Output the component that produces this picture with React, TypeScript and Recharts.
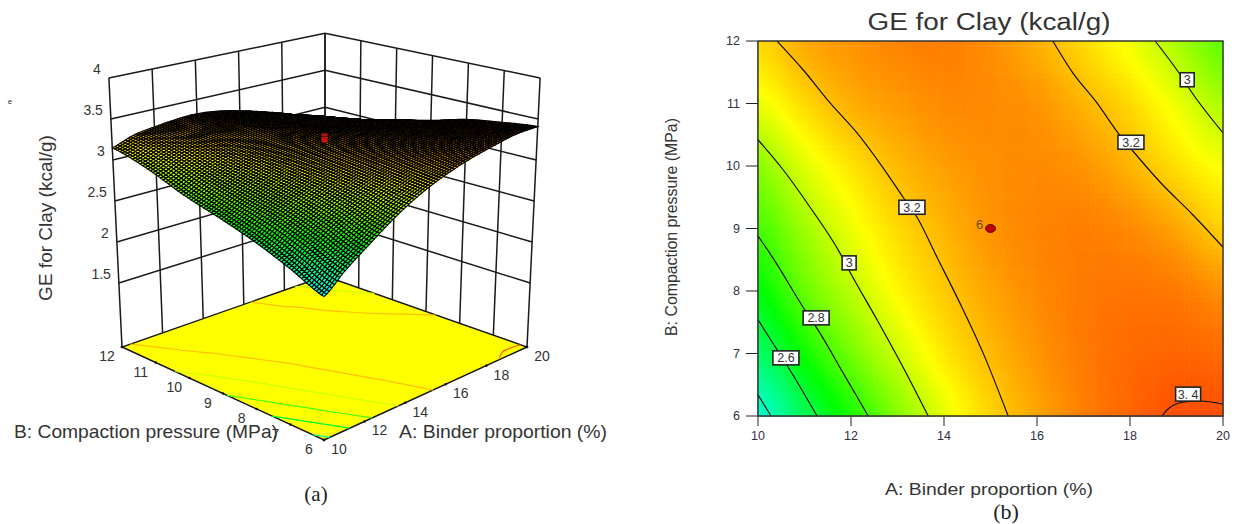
import React from 'react';
import { ScatterChart, Scatter, XAxis, YAxis } from 'recharts';

// GE (kcal/g), one row per compaction pressure (B = 6..12), A = 10..20
const binderValues = [10, 11, 12, 13, 14, 15, 16, 17, 18, 19, 20];
const pressureValues = [6, 7, 8, 9, 10, 11, 12];
const geB6 = [2.35, 2.55, 2.72, 2.89, 3.04, 3.16, 3.25, 3.32, 3.37, 3.41, 3.41];
const geB7 = [2.52, 2.7, 2.86, 3.0, 3.12, 3.21, 3.28, 3.33, 3.36, 3.37, 3.36];
const geB8 = [2.67, 2.84, 2.97, 3.09, 3.18, 3.25, 3.3, 3.33, 3.34, 3.33, 3.29];
const geB9 = [2.79, 2.93, 3.05, 3.15, 3.22, 3.28, 3.31, 3.32, 3.3, 3.25, 3.17];
const geB10 = [2.9, 3.03, 3.13, 3.21, 3.26, 3.29, 3.3, 3.28, 3.22, 3.14, 3.07];
const geB11 = [3.05, 3.15, 3.23, 3.27, 3.3, 3.3, 3.28, 3.22, 3.15, 3.05, 2.95];
const geB12 = [3.15, 3.24, 3.28, 3.31, 3.32, 3.29, 3.23, 3.15, 3.06, 2.95, 2.83];
const geRows = [geB6, geB7, geB8, geB9, geB10, geB11, geB12];

// contour lines as [A, B]
const contour24 = [[10, 6.34], [10.28, 6]];
const contour26 = [[10, 7.54], [10.41, 7.06], [10.65, 6.78], [11.27, 6]];
const contour28 = [[10, 8.88], [10.32, 8.53], [10.97, 7.74], [11.33, 7.33], [11.83, 6.69], [12.37, 6]];
const contour30 = [[10, 10.42], [10.54, 9.94], [11.12, 9.34], [11.76, 8.61], [11.98, 8.3], [12.56, 7.54], [13.12, 6.78], [13.66, 6]];
const contour32 = [[10.41, 12], [10.97, 11.54], [11.55, 11.01], [12.13, 10.53], [12.69, 9.97], [13.12, 9.5], [13.42, 9.18], [13.85, 8.54], [14.34, 7.81], [14.84, 7.01], [15.38, 6]];
const contour32Right = [[16.34, 12], [16.77, 11.49], [17.29, 11.01], [17.74, 10.53], [18.04, 10.26], [18.65, 9.74], [19.35, 9.22], [20, 8.7]];
const contour30Right = [[18.54, 12], [19.08, 11.46], [19.29, 11.22], [20, 10.53]];
const contour34 = [[18.69, 6], [18.8, 6.1], [19.14, 6.22], [19.51, 6.24], [20, 6.19]];
const contourLines = [
  { level: 2.4, points: contour24 },
  { level: 2.6, points: contour26 },
  { level: 2.8, points: contour28 },
  { level: 3.0, points: contour30 },
  { level: 3.2, points: contour32 },
  { level: 3.2, points: contour32Right },
  { level: 3.0, points: contour30Right },
  { level: 3.4, points: contour34 },
];
const contourLabels = [
  { x: 10.6, y: 6.93, text: '2.6', w: 26 },
  { x: 11.25, y: 7.57, text: '2.8', w: 26 },
  { x: 11.96, y: 8.45, text: '3', w: 14 },
  { x: 13.31, y: 9.34, text: '3.2', w: 26 },
  { x: 18.02, y: 10.38, text: '3.2', w: 26 },
  { x: 19.23, y: 11.38, text: '3', w: 14 },
  { x: 19.25, y: 6.35, text: '3. 4', w: 25 },
];

const binderTicks = [10, 12, 14, 16, 18, 20];
const pressureTicks = [6, 7, 8, 9, 10, 11, 12];
const geTicks = [1.5, 2, 2.5, 3, 3.5, 4];
const designPoint = { a: 15, b: 9, surfaceGe: 3.36, label: '6' };

const FONT = '"Liberation Sans", Arial, sans-serif';
const TEXT = '#333';
const FLOOR_GE = 0.72;

// bilinear box projection for panel (a): corners are front, right, left, back
const floorX = [324, 527, 122, 325];
const floorY = [440, 347, 347, 276];
const tilt = [0, 4, -4, 0];
const unitHeight = [88, 82, 82, 74];

const corner = (c: number[], u: number, v: number) =>
  c[0] * (1 - u) * (1 - v) + c[1] * u * (1 - v) + c[2] * (1 - u) * v + c[3] * u * v;

const project = (a: number, b: number, z: number) => {
  const u = (a - 10) / 10;
  const v = (b - 6) / 6;
  const h = z - FLOOR_GE;
  return {
    x: corner(floorX, u, v) + corner(tilt, u, v) * h,
    y: corner(floorY, u, v) - corner(unitHeight, u, v) * h,
  };
};

// colour ramp of the plot: cyan, green, yellow, red
const geColor = (v: number) => {
  const clamp = (n: number) => Math.max(0, Math.min(255, Math.round(n)));
  if (v < 2.68) return `rgb(0,255,${clamp(((2.68 - v) / 0.4) * 255)})`;
  if (v < 3.08) return `rgb(${clamp(((v - 2.68) / 0.4) * 255)},255,0)`;
  return `rgb(255,${clamp(((3.56 - v) / 0.48) * 255)},0)`;
};

// smooth shading between the read values, used only when painting a patch
const cubic = (p0: number, p1: number, p2: number, p3: number, t: number) =>
  p1 + 0.5 * t * (p2 - p0 + t * (2 * p0 - 5 * p1 + 4 * p2 - p3 + t * (3 * (p1 - p2) + p3 - p0)));
const geAt = (a: number, b: number) => {
  const i = Math.min(9, Math.floor(a - 10));
  const j = Math.min(5, Math.floor(b - 6));
  const cell = (ii: number, jj: number) =>
    geRows[Math.max(0, Math.min(6, jj))][Math.max(0, Math.min(10, ii))];
  const col = (k: number) =>
    cubic(cell(i + k, j - 1), cell(i + k, j), cell(i + k, j + 1), cell(i + k, j + 2), b - 6 - j);
  return cubic(col(-1), col(0), col(1), col(2), a - 10 - i);
};

// back to front, so nearer patches paint over farther ones
const patches: { x: number; y: number; a: number; b: number; mx: number; my: number }[] = [];
binderValues.slice(0, 10).reverse().forEach((a) => {
  pressureValues.slice(0, 6).reverse().forEach((b) => {
    const p = project(a + 0.5, b + 0.5, FLOOR_GE);
    patches.push({ ...p, a, b, mx: a + 0.5, my: b + 0.5 });
  });
});
const heatCells = patches.map((p) => ({ x: p.mx, y: p.my, a: p.a, b: p.b }));

const SurfacePatch = (props: any) => {
  const { cx, cy, payload } = props;
  const dx = cx - payload.x;
  const dy = cy - payload.y;
  const stepsA = 8;
  const stepsB = 14;
  const out: React.ReactNode[] = [];
  for (let i = stepsA - 1; i >= 0; i--) {
    for (let j = stepsB - 1; j >= 0; j--) {
      const a0 = payload.a + i / stepsA;
      const a1 = payload.a + (i + 1) / stepsA;
      const b0 = payload.b + j / stepsB;
      const b1 = payload.b + (j + 1) / stepsB;
      const corners = [[a0, b0], [a1, b0], [a1, b1], [a0, b1]].map(([a, b]) => {
        const p = project(a, b, geAt(a, b));
        return `${(p.x + dx).toFixed(1)} ${(p.y + dy).toFixed(1)}`;
      });
      out.push(
        <path
          key={`${i}-${j}`}
          d={`M${corners.join('L')}Z`}
          fill={geColor(geAt((a0 + a1) / 2, (b0 + b1) / 2) - 0.06)}
          stroke="#000"
          strokeWidth={1.1}
        />,
      );
    }
  }
  return <g>{out}</g>;
};

const PLOT_W = 465;
const PLOT_H = 375;
const HeatCell = (props: any) => {
  const { cx, cy, payload } = props;
  const n = 12;
  const w = PLOT_W / 10 / n;
  const h = PLOT_H / 6 / n;
  const out: React.ReactNode[] = [];
  for (let i = 0; i < n; i++) {
    for (let j = 0; j < n; j++) {
      out.push(
        <rect
          key={`${i}-${j}`}
          x={cx - (w * n) / 2 + i * w}
          y={cy + (h * n) / 2 - (j + 1) * h}
          width={w + 0.6}
          height={h + 0.6}
          fill={geColor(geAt(payload.a + (i + 0.5) / n, payload.b + (j + 0.5) / n))}
        />,
      );
    }
  }
  return <g>{out}</g>;
};

const FloorShape = (props: any) => {
  const { cx, cy, payload } = props;
  const dx = cx - payload.x;
  const dy = cy - payload.y;
  const order = [0, 1, 3, 2];
  const pts = order.map((k) => `${floorX[k] + dx},${floorY[k] + dy}`).join(' ');
  return <polygon points={pts} fill="#ffff00" stroke="#111" strokeWidth={1.4} />;
};

const noDot = () => <g />;
const TickText = (dx: number, dy: number, anchor: string) => (props: any) => (
  <text
    x={props.cx + dx}
    y={props.cy + dy}
    textAnchor={anchor as any}
    fontFamily={FONT}
    fontSize={14}
    fill={TEXT}
  >
    {props.payload.label}
  </text>
);

const seg = (p: { x: number; y: number }, q: { x: number; y: number }) => [p, q];
const boxSegments: { x: number; y: number }[][] = [];
binderTicks.forEach((a) => boxSegments.push(seg(project(a, 12, FLOOR_GE), project(a, 12, 4))));
pressureTicks.forEach((b) => boxSegments.push(seg(project(20, b, FLOOR_GE), project(20, b, 4))));
geTicks.forEach((z) => {
  boxSegments.push(seg(project(10, 12, z), project(20, 12, z)));
  boxSegments.push(seg(project(20, 12, z), project(20, 6, z)));
});

const binderLabels = binderTicks.map((a) => ({ ...project(a, 6, FLOOR_GE), label: String(a) }));
const pressureLabels = pressureTicks.map((b) => ({ ...project(10, b, FLOOR_GE), label: String(b) }));
const geLabels = geTicks.map((z) => ({ ...project(10, 12, z), label: String(z) }));
const edgeTicks = [
  ...binderTicks.map((a) => project(a, 6, FLOOR_GE)),
  ...pressureTicks.map((b) => project(10, b, FLOOR_GE)),
];
const marker3d = [project(designPoint.a, designPoint.b, designPoint.surfaceGe)];

const contourPoints = (points: number[][]) => points.map(([x, y]) => ({ x, y }));

const ContourLabel = (props: any) => {
  const { cx, cy, payload } = props;
  return (
    <g>
      <rect
        x={cx - payload.w / 2}
        y={cy - 7}
        width={payload.w}
        height={14}
        fill="#fff"
        stroke="#222"
        strokeWidth={1.6}
      />
      <text x={cx} y={cy + 4.5} textAnchor="middle" fontFamily={FONT} fontSize={12.5} fill={TEXT}>
        {payload.text}
      </text>
    </g>
  );
};

const tickStyle = { fill: '#2f2f45', fontSize: 12.5, fontFamily: FONT };

const App: React.FC = () => (
  <div style={{ position: 'absolute', left: 0, top: 0, width: 1235, height: 524, background: '#fff' }}>
    <div style={{ position: 'absolute', left: 0, top: 0 }}>
      <ScatterChart width={640} height={524} margin={{ top: 0, right: 0, bottom: 0, left: 0 }}>
        <XAxis type="number" dataKey="x" domain={[0, 640]} hide />
        <YAxis type="number" dataKey="y" domain={[0, 524]} reversed hide />
        {boxSegments.map((s, i) => (
          <Scatter
            key={i}
            data={s}
            line={{ stroke: '#1a1a1a', strokeWidth: 1.5 }}
            shape={noDot}
            isAnimationActive={false}
          />
        ))}
        <Scatter
          data={[project(15, 9, FLOOR_GE)]}
          shape={<FloorShape />}
          isAnimationActive={false}
        />
        {contourLines.map((c, i) => (
          <Scatter
            key={i}
            data={c.points.map(([a, b]) => project(a, b, FLOOR_GE))}
            line={{ stroke: geColor(c.level), strokeWidth: 1.2 }}
            lineJointType="monotoneX"
            shape={noDot}
            isAnimationActive={false}
          />
        ))}
        <Scatter
          data={edgeTicks}
          shape={(p: any) => <circle cx={p.cx} cy={p.cy} r={1.3} fill="#111" />}
          isAnimationActive={false}
        />
        <Scatter data={patches} shape={<SurfacePatch />} isAnimationActive={false} />
        <Scatter
          data={marker3d}
          shape={(p: any) => (
            <g>
              <rect x={p.cx - 3} y={p.cy - 4} width={6} height={9} fill="#c81414" />
              <line x1={p.cx - 3} x2={p.cx + 3} y1={p.cy - 1} y2={p.cy - 1} stroke="#500" />
            </g>
          )}
          isAnimationActive={false}
        />
        <Scatter data={geLabels} shape={TickText(-8, -4, 'end')} isAnimationActive={false} />
        <Scatter data={pressureLabels} shape={TickText(-15, 14, 'middle')} isAnimationActive={false} />
        <Scatter data={binderLabels} shape={TickText(15, 14, 'middle')} isAnimationActive={false} />
        <text x={14} y={438} fontFamily={FONT} fontSize={19} fill={TEXT} textLength={264} lengthAdjust="spacingAndGlyphs">
          B: Compaction pressure (MPa)
        </text>
        <text x={399} y={438} fontFamily={FONT} fontSize={19} fill={TEXT} textLength={208} lengthAdjust="spacingAndGlyphs">
          A: Binder proportion (%)
        </text>
        <text
          transform="translate(52,218) rotate(-90)"
          textAnchor="middle"
          fontFamily={FONT}
          fontSize={19}
          fill={TEXT}
        >
          GE for Clay (kcal/g)
        </text>
        <text x={10} y={104} textAnchor="middle" fontFamily={FONT} fontSize={8} fill={TEXT}>
          e
        </text>
        <text x={316} y={501} textAnchor="middle" fontFamily='"Liberation Serif", serif' fontSize={21} fill="#222">
          (a)
        </text>
      </ScatterChart>
    </div>
    <div style={{ position: 'absolute', left: 640, top: 0 }}>
      <ScatterChart width={595} height={524} margin={{ top: 41, right: 12, bottom: 78, left: 58 }}>
        <XAxis
          type="number"
          dataKey="x"
          domain={[10, 20]}
          ticks={binderTicks}
          height={30}
          tickSize={10}
          tickMargin={5}
          tick={tickStyle}
          stroke="#222"
        />
        <YAxis
          type="number"
          dataKey="y"
          domain={[6, 12]}
          ticks={pressureTicks}
          width={60}
          tickSize={12}
          tickMargin={6}
          tick={tickStyle}
          stroke="#222"
        />
        <Scatter data={heatCells} shape={<HeatCell />} isAnimationActive={false} />
        {contourLines.map((c, i) => (
          <Scatter
            key={i}
            data={contourPoints(c.points)}
            line={{ stroke: '#111', strokeWidth: 1.2 }}
            lineJointType="monotoneX"
            shape={noDot}
            isAnimationActive={false}
          />
        ))}
        <Scatter
          data={[{ x: 10, y: 12 }, { x: 20, y: 12 }, { x: 20, y: 6 }, { x: 10, y: 6 }, { x: 10, y: 12 }]}
          line={{ stroke: '#333', strokeWidth: 1.4 }}
          shape={noDot}
          isAnimationActive={false}
        />
        <Scatter data={contourLabels} shape={<ContourLabel />} isAnimationActive={false} />
        <Scatter
          data={[{ x: designPoint.a, y: designPoint.b, label: designPoint.label }]}
          shape={(p: any) => (
            <g>
              <ellipse cx={p.cx} cy={p.cy} rx={5} ry={4} fill="#c00000" stroke="#5a1000" />
              <text x={p.cx - 11} y={p.cy} textAnchor="middle" fontFamily={FONT} fontSize={13} fill="#6b4a00">
                {p.payload.label}
              </text>
            </g>
          )}
          isAnimationActive={false}
        />
        <text
          x={349}
          y={30}
          textAnchor="middle"
          fontFamily={FONT}
          fontSize={23}
          fill={TEXT}
          textLength={243}
          lengthAdjust="spacingAndGlyphs"
        >
          GE for Clay (kcal/g)
        </text>
        <text
          x={349}
          y={495}
          textAnchor="middle"
          fontFamily={FONT}
          fontSize={17}
          fill={TEXT}
          textLength={208}
          lengthAdjust="spacingAndGlyphs"
        >
          A: Binder proportion (%)
        </text>
        <text
          transform="translate(37,227) rotate(-90)"
          textAnchor="middle"
          fontFamily={FONT}
          fontSize={16}
          fill={TEXT}
          textLength={218}
          lengthAdjust="spacingAndGlyphs"
        >
          B: Compaction pressure (MPa)
        </text>
        <text x={366} y={519} textAnchor="middle" fontFamily='"Liberation Serif", serif' fontSize={22} fill="#222">
          (b)
        </text>
      </ScatterChart>
    </div>
  </div>
);

export default App;
